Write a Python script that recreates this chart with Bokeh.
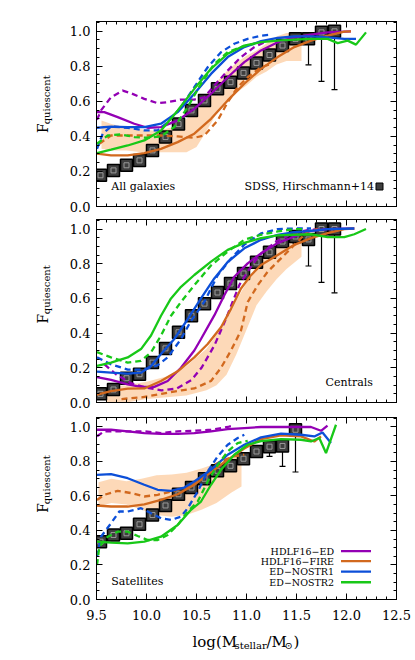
import numpy as np
from bokeh.plotting import figure
from bokeh.layouts import column, row
from bokeh.models import Range1d, FixedTicker, LinearAxis, Label
from bokeh.embed import file_html
from bokeh.resources import INLINE

# ---------------- data ----------------
sdss_x = [9.54, 9.67, 9.80, 9.93, 10.06, 10.19, 10.32, 10.45, 10.58, 10.71,
          10.84, 10.97, 11.10, 11.23, 11.36, 11.49, 11.62, 11.75, 11.88]

# All galaxies: SDSS (Hirschmann+14)
all_sdss_y = [0.178, 0.206, 0.235, 0.263, 0.320, 0.396, 0.470, 0.548, 0.605, 0.671,
              0.709, 0.762, 0.819, 0.864, 0.918, 0.956, 0.956, 0.993, 0.999]
all_sdss_elo = [0.012, 0.012, 0.012, 0.012, 0.012, 0.012, 0.012, 0.012, 0.012, 0.012,
                0.012, 0.012, 0.012, 0.012, 0.015, 0.025, 0.148, 0.279, 0.332]
all_sdss_ehi = [0.012, 0.012, 0.012, 0.012, 0.012, 0.012, 0.012, 0.012, 0.012, 0.012,
                0.012, 0.012, 0.012, 0.012, 0.012, 0.012, 0.012, 0.005, 0.001]

all_band_x = [9.55, 9.65, 9.8, 9.95, 10.1, 10.25, 10.4, 10.5, 10.6, 10.7, 10.8, 10.9, 11.0, 11.1, 11.2, 11.3, 11.4, 11.55]
all_band_hi = [0.49, 0.47, 0.45, 0.44, 0.43, 0.45, 0.50, 0.56, 0.64, 0.71, 0.77, 0.82, 0.86, 0.89, 0.93, 0.97, 0.99, 0.99]
all_band_lo = [0.33, 0.32, 0.32, 0.31, 0.31, 0.31, 0.31, 0.34, 0.43, 0.53, 0.59, 0.65, 0.69, 0.74, 0.77, 0.81, 0.83, 0.83]

all_ed_sol_x = [9.505, 9.578, 9.712, 9.878, 10.012, 10.145, 10.312, 10.478, 10.645, 10.812, 10.978, 11.145, 11.312, 11.478, 11.645, 11.812, 12.045]
all_ed_sol_y = [0.538, 0.538, 0.510, 0.472, 0.449, 0.453, 0.491, 0.557, 0.643, 0.737, 0.823, 0.890, 0.937, 0.965, 0.980, 0.993, 0.999]
all_ed_dsh_x = [9.505, 9.545, 9.645, 9.762, 9.845, 9.978, 10.112, 10.212, 10.345, 10.478, 10.578, 10.678, 10.812, 10.945, 11.078, 11.212]
all_ed_dsh_y = [0.494, 0.548, 0.623, 0.661, 0.646, 0.614, 0.589, 0.595, 0.610, 0.610, 0.623, 0.690, 0.775, 0.852, 0.909, 0.946]
all_fire_sol_x = [9.505, 9.645, 9.812, 9.978, 10.145, 10.312, 10.478, 10.645, 10.812, 10.978, 11.145, 11.312, 11.478, 11.645, 11.812, 11.978, 12.045]
all_fire_sol_y = [0.301, 0.291, 0.291, 0.305, 0.329, 0.367, 0.415, 0.500, 0.605, 0.700, 0.785, 0.852, 0.909, 0.946, 0.974, 0.997, 0.999]
all_fire_dsh_x = [9.528, 9.645, 9.812, 9.978, 10.145, 10.312, 10.478, 10.578, 10.712, 10.812, 10.912, 11.012, 11.145, 11.245]
all_fire_dsh_y = [0.358, 0.405, 0.405, 0.405, 0.405, 0.400, 0.392, 0.405, 0.491, 0.595, 0.681, 0.737, 0.794, 0.813]
all_n1_sol_x = [9.505, 9.645, 9.812, 9.978, 10.145, 10.312, 10.478, 10.645, 10.812, 10.978, 11.145, 11.312, 11.478, 11.645, 11.812, 11.978, 12.095]
all_n1_sol_y = [0.449, 0.456, 0.453, 0.453, 0.472, 0.538, 0.643, 0.756, 0.852, 0.909, 0.943, 0.961, 0.970, 0.970, 0.965, 0.956, 0.956]
all_n1_dsh_x = [9.505, 9.562, 9.645, 9.812, 9.978, 10.112, 10.212, 10.345, 10.478, 10.612, 10.745, 10.878, 11.012, 11.145, 11.245]
all_n1_dsh_y = [0.329, 0.415, 0.456, 0.449, 0.434, 0.434, 0.481, 0.567, 0.681, 0.794, 0.880, 0.928, 0.956, 0.974, 0.980]
all_n2_sol_x = [9.505, 9.645, 9.812, 9.978, 10.145, 10.312, 10.478, 10.645, 10.812, 10.978, 11.145, 11.312, 11.478, 11.645, 11.812, 11.912, 12.012, 12.095, 12.195]
all_n2_sol_y = [0.305, 0.324, 0.348, 0.377, 0.434, 0.548, 0.671, 0.785, 0.871, 0.918, 0.937, 0.946, 0.952, 0.956, 0.956, 0.932, 0.946, 0.923, 0.993]
all_n2_dsh_x = [9.505, 9.612, 9.745, 9.878, 10.012, 10.145, 10.278, 10.412, 10.545, 10.678, 10.812, 10.945, 11.078]
all_n2_dsh_y = [0.358, 0.405, 0.411, 0.396, 0.392, 0.400, 0.453, 0.567, 0.700, 0.813, 0.880, 0.909, 0.928]

# Centrals
cen_sdss_y = [0.050, 0.075, 0.140, 0.163, 0.230, 0.312, 0.405, 0.500, 0.570, 0.634,
              0.686, 0.744, 0.808, 0.866, 0.928, 0.957, 0.940, 1.000, 1.000]
cen_sdss_elo = [0.012, 0.012, 0.012, 0.012, 0.012, 0.012, 0.012, 0.012, 0.012, 0.012,
                0.012, 0.012, 0.012, 0.012, 0.015, 0.039, 0.153, 0.308, 0.368]
cen_sdss_ehi = [0.012, 0.012, 0.012, 0.012, 0.012, 0.012, 0.012, 0.012, 0.012, 0.012,
                0.012, 0.012, 0.012, 0.012, 0.012, 0.012, 0.012, 0.001, 0.001]

cen_band_x = [9.6, 9.8, 10.0, 10.2, 10.4, 10.6, 10.7, 10.8, 10.9, 11.0, 11.1, 11.2, 11.3, 11.4, 11.55]
cen_band_hi = [0.09, 0.10, 0.12, 0.15, 0.21, 0.31, 0.39, 0.48, 0.59, 0.69, 0.79, 0.86, 0.92, 0.96, 0.99]
cen_band_lo = [0.00, 0.00, 0.02, 0.03, 0.04, 0.07, 0.10, 0.16, 0.28, 0.42, 0.56, 0.64, 0.71, 0.77, 0.84]

cen_ed_sol_x = [9.505, 9.645, 9.812, 9.945, 10.078, 10.212, 10.345, 10.478, 10.545, 10.678, 10.778, 10.878, 11.012, 11.145, 11.312, 11.478, 11.645, 11.812, 12.078]
cen_ed_sol_y = [0.147, 0.130, 0.105, 0.090, 0.090, 0.124, 0.200, 0.300, 0.366, 0.502, 0.618, 0.725, 0.802, 0.860, 0.919, 0.957, 0.990, 1.000, 1.003]
cen_ed_dsh_x = [9.58, 9.70, 9.85, 10.00, 10.15, 10.30, 10.45, 10.55, 10.68, 10.80, 10.93, 11.03, 11.13, 11.30, 11.47, 11.63, 11.80]
cen_ed_dsh_y = [0.22, 0.16, 0.11, 0.085, 0.07, 0.08, 0.13, 0.20, 0.33, 0.49, 0.68, 0.77, 0.85, 0.93, 0.977, 0.996, 1.0]
cen_fire_sol_x = [9.505, 9.645, 9.812, 9.978, 10.145, 10.312, 10.478, 10.612, 10.745, 10.845, 10.945, 11.045, 11.145, 11.312, 11.478, 11.645, 11.812, 11.978, 12.078]
cen_fire_sol_y = [0.046, 0.066, 0.080, 0.081, 0.124, 0.180, 0.260, 0.337, 0.434, 0.540, 0.657, 0.734, 0.793, 0.850, 0.909, 0.948, 0.977, 1.000, 1.003]
cen_fire_dsh_x = [9.75, 9.95, 10.15, 10.35, 10.478, 10.645, 10.745, 10.845, 10.945, 11.012, 11.112, 11.212, 11.312, 11.412, 11.512, 11.612, 11.712]
cen_fire_dsh_y = [0.02, 0.03, 0.05, 0.07, 0.081, 0.124, 0.20, 0.30, 0.415, 0.579, 0.676, 0.754, 0.812, 0.870, 0.928, 0.986, 1.0]
cen_n1_sol_x = [9.505, 9.645, 9.812, 9.945, 10.045, 10.145, 10.278, 10.412, 10.545, 10.678, 10.812, 10.978, 11.145, 11.312, 11.478, 11.645, 11.812, 12.078]
cen_n1_sol_y = [0.178, 0.172, 0.166, 0.172, 0.210, 0.279, 0.366, 0.480, 0.600, 0.715, 0.810, 0.889, 0.938, 0.967, 0.982, 0.990, 1.000, 1.003]
cen_n1_dsh_x = [9.505, 9.645, 9.812, 9.978, 10.112, 10.212, 10.345, 10.445, 10.578, 10.712, 10.845, 10.978, 11.145, 11.312, 11.478, 11.645]
cen_n1_dsh_y = [0.26, 0.22, 0.19, 0.19, 0.215, 0.26, 0.366, 0.47, 0.58, 0.734, 0.83, 0.91, 0.975, 1.0, 1.003, 1.003]
cen_n2_sol_x = [9.505, 9.645, 9.812, 9.945, 10.045, 10.145, 10.245, 10.345, 10.478, 10.645, 10.812, 10.978, 11.145, 11.312, 11.478, 11.645, 11.812, 11.978, 12.078, 12.195]
cen_n2_sol_y = [0.211, 0.230, 0.260, 0.308, 0.386, 0.500, 0.600, 0.667, 0.735, 0.812, 0.880, 0.920, 0.948, 0.963, 0.967, 0.970, 0.953, 0.953, 0.970, 1.000]
cen_n2_dsh_x = [9.505, 9.645, 9.812, 9.945, 10.045, 10.145, 10.245, 10.345, 10.478, 10.645, 10.812, 10.978, 11.145, 11.312, 11.478, 11.578]
cen_n2_dsh_y = [0.29, 0.26, 0.23, 0.24, 0.289, 0.386, 0.50, 0.58, 0.676, 0.79, 0.87, 0.938, 0.967, 0.986, 1.0, 1.0]

# Satellites
sat_sdss_x = sdss_x[:16]
sat_sdss_y = [0.335, 0.374, 0.384, 0.436, 0.490, 0.545, 0.610, 0.649, 0.700, 0.746,
              0.775, 0.816, 0.858, 0.886, 0.890, 0.984]
sat_sdss_elo = [0.012, 0.012, 0.012, 0.012, 0.012, 0.012, 0.012, 0.012, 0.012, 0.012,
                0.012, 0.012, 0.020, 0.056, 0.118, 0.245]
sat_sdss_ehi = [0.012, 0.012, 0.012, 0.012, 0.012, 0.012, 0.012, 0.012, 0.012, 0.012,
                0.012, 0.012, 0.012, 0.012, 0.012, 0.012]

sat_band_x = [9.52, 9.65, 9.8, 9.95, 10.1, 10.25, 10.4, 10.55, 10.7, 10.85, 10.95]
sat_band_hi = [0.68, 0.70, 0.685, 0.70, 0.72, 0.725, 0.735, 0.76, 0.79, 0.82, 0.83]
sat_band_lo = [0.54, 0.56, 0.55, 0.52, 0.49, 0.48, 0.49, 0.52, 0.56, 0.62, 0.655]

sat_ed_sol_x = [9.505, 9.645, 9.812, 9.978, 10.145, 10.312, 10.478, 10.645, 10.812, 10.978, 11.145, 11.312, 11.478, 11.645, 11.745, 11.81]
sat_ed_sol_y = [0.984, 0.984, 0.975, 0.965, 0.960, 0.960, 0.965, 0.975, 0.988, 0.994, 1.000, 1.000, 1.000, 1.000, 0.978, 1.008]
sat_ed_dsh_x = [9.505, 9.578, 9.812, 9.978, 10.145, 10.312, 10.478, 10.645, 10.812, 10.878]
sat_ed_dsh_y = [0.946, 0.975, 0.975, 0.975, 0.965, 0.975, 0.978, 0.984, 1.000, 1.010]
sat_fire_sol_x = [9.505, 9.645, 9.812, 9.978, 10.145, 10.312, 10.478, 10.645, 10.812, 10.978, 11.145, 11.345, 11.545, 11.678, 11.745]
sat_fire_sol_y = [0.545, 0.539, 0.539, 0.552, 0.577, 0.610, 0.665, 0.738, 0.810, 0.875, 0.930, 0.952, 0.946, 0.916, 0.946]
sat_fire_dsh_x = [9.505, 9.578, 9.712, 9.845, 9.978, 10.112, 10.245, 10.378, 10.478, 10.578, 10.678, 10.778, 10.878, 10.978]
sat_fire_dsh_y = [0.577, 0.607, 0.630, 0.617, 0.597, 0.607, 0.626, 0.645, 0.675, 0.723, 0.780, 0.810, 0.830, 0.840]
sat_n1_sol_x = [9.505, 9.645, 9.812, 9.978, 10.112, 10.245, 10.378, 10.478, 10.645, 10.812, 10.978, 11.145, 11.345, 11.545, 11.678, 11.76, 11.845]
sat_n1_sol_y = [0.723, 0.727, 0.703, 0.665, 0.636, 0.630, 0.649, 0.684, 0.752, 0.839, 0.897, 0.940, 0.962, 0.955, 0.945, 0.968, 0.907]
sat_n1_dsh_x = [9.505, 9.545, 9.645, 9.728, 9.812, 9.945, 10.045, 10.145, 10.245, 10.345, 10.412, 10.512, 10.612, 10.712, 10.812, 10.912, 10.978]
sat_n1_dsh_y = [0.248, 0.364, 0.442, 0.510, 0.510, 0.529, 0.500, 0.471, 0.461, 0.480, 0.529, 0.626, 0.742, 0.830, 0.897, 0.936, 0.955]
sat_n2_sol_x = [9.505, 9.645, 9.812, 9.978, 10.145, 10.312, 10.445, 10.545, 10.645, 10.745, 10.878, 11.012, 11.145, 11.345, 11.545, 11.645, 11.728, 11.795, 11.895]
sat_n2_sol_y = [0.335, 0.330, 0.325, 0.335, 0.364, 0.432, 0.520, 0.568, 0.665, 0.752, 0.839, 0.897, 0.918, 0.930, 0.926, 0.916, 0.936, 0.849, 1.013]
sat_n2_dsh_x = [9.505, 9.528, 9.612, 9.712, 9.812, 9.912, 10.012, 10.112, 10.212, 10.312, 10.412, 10.512, 10.612, 10.712, 10.812, 10.912, 11.012]
sat_n2_dsh_y = [0.200, 0.306, 0.364, 0.393, 0.393, 0.368, 0.345, 0.345, 0.374, 0.432, 0.510, 0.568, 0.684, 0.780, 0.858, 0.907, 0.920]

model_names = ["HDLF16\u2212ED", "HDLF16\u2212FIRE", "ED\u2212NOSTR1", "ED\u2212NOSTR2"]
x_tick_labels = ["9.5", "10.0", "10.5", "11.0", "11.5", "12.0", "12.5"]
y_tick_labels = ["0.0", "0.2", "0.4", "0.6", "0.8", "1.0"]

# ---------------- styling ----------------
PURPLE = "#9300b4"
ORANGE = "#d2691e"
BLUE = "#0c4fd8"
GREEN = "#18c818"
BAND = "#fdd5b0"
COLORS = [PURPLE, ORANGE, BLUE, GREEN]
SERIF = "DejaVu Serif"
LW = 2.3
DASH = "6 4"

X_MAJOR = [9.5, 10.0, 10.5, 11.0, 11.5, 12.0, 12.5]
X_MINOR = [round(9.5 + 0.1 * i, 2) for i in range(31)]
Y_MAJOR = [0.0, 0.2, 0.4, 0.6, 0.8, 1.0]
Y_MINOR = [round(0.05 * i, 2) for i in range(22)]
YMAX = 1.055

LAB_W = 64      # width of the strip holding the rotated y titles
PANEL_W = 348   # width of each panel figure


def labelled_axis(ticks, minor, labels, standoff):
    ax = LinearAxis(ticker=FixedTicker(ticks=ticks, minor_ticks=minor),
                    major_label_overrides={v: s for v, s in zip(ticks, labels)})
    ax.axis_line_color = "black"
    ax.major_tick_line_color = "black"
    ax.minor_tick_line_color = "black"
    ax.major_tick_in = 6
    ax.major_tick_out = 0
    ax.minor_tick_in = 3
    ax.minor_tick_out = 0
    ax.major_label_text_font = SERIF
    ax.major_label_text_font_size = "13px"
    ax.major_label_text_color = "black"
    ax.major_label_standoff = standoff
    return ax


def tick_only_axes(p, side, major, minor):
    # two label-free axes on one side: long ticks at the majors, short at the minors
    for pos, length in ((major, 6), (minor, 3)):
        ax = LinearAxis(ticker=FixedTicker(ticks=[], minor_ticks=pos))
        ax.axis_line_color = "black"
        ax.minor_tick_line_color = "black"
        ax.major_tick_in = 0
        ax.major_tick_out = 0
        ax.minor_tick_in = length
        ax.minor_tick_out = 0
        ax.major_label_standoff = 0
        p.add_layout(ax, side)


def make_panel(height, top, bottom, show_x):
    p = figure(width=PANEL_W, height=height, x_range=Range1d(9.5, 12.5),
               y_range=Range1d(0.0, YMAX), output_backend="svg",
               toolbar_location=None, x_axis_location=None, y_axis_location=None,
               min_border_left=32, min_border_right=16,
               min_border_top=top, min_border_bottom=bottom)
    p.grid.visible = False
    p.outline_line_color = "black"
    p.background_fill_color = "white"
    p.border_fill_color = "white"
    p.add_layout(labelled_axis(Y_MAJOR, Y_MINOR, y_tick_labels, 6), "left")
    if show_x:
        p.add_layout(labelled_axis(X_MAJOR, X_MINOR, x_tick_labels, 10), "below")
    else:
        tick_only_axes(p, "below", X_MAJOR, X_MINOR)
    tick_only_axes(p, "above", X_MAJOR, X_MINOR)
    tick_only_axes(p, "right", Y_MAJOR, Y_MINOR)
    return p


def ylabel_strip(height, center):
    f = figure(width=LAB_W, height=height, x_range=Range1d(0, LAB_W),
               y_range=Range1d(height, 0), output_backend="svg",
               toolbar_location=None, x_axis_location=None, y_axis_location=None,
               min_border=0, outline_line_color=None)
    f.grid.visible = False
    f.add_layout(Label(x=42, y=center + 16, text="F", angle=np.pi / 2, text_align="left",
                       text_baseline="middle", text_font=SERIF, text_font_size="14px",
                       text_color="black"))
    f.add_layout(Label(x=46, y=center + 6, text="quiescent", angle=np.pi / 2,
                       text_align="left", text_baseline="middle", text_font=SERIF,
                       text_font_size="10px", text_color="black"))
    return f


def draw(p, band, sdss, curves):
    bx, blo, bhi = band
    p.varea(x=bx, y1=blo, y2=bhi, fill_color=BAND, fill_alpha=0.9)
    sx, sy, elo, ehi = sdss
    sx = np.array(sx); sy = np.array(sy)
    lo = sy - np.array(elo); hi = sy + np.array(ehi)
    p.segment(x0=sx, y0=lo, x1=sx, y1=hi, line_color="black", line_width=1.2)
    p.segment(x0=sx - 0.03, y0=lo, x1=sx + 0.03, y1=lo, line_color="black", line_width=1.2)
    p.scatter(sx, sy, marker="square", size=12, fill_color="#3e3e3e",
              line_color="black", line_width=1.5)
    p.scatter(sx, sy, marker="square", size=5, fill_alpha=0,
              line_color="#9a9a9a", line_width=1)
    for color, (xs, ys, xd, yd) in zip(COLORS, curves):
        p.line(xd, yd, line_color=color, line_width=LW, line_dash=DASH)
        p.line(xs, ys, line_color=color, line_width=LW)


def text(p, x, y, s, align="left", size="11px"):
    p.add_layout(Label(x=x, y=y, text=s, text_align=align, text_baseline="middle",
                       text_font=SERIF, text_font_size=size, text_color="black"))


# ---------------- panels ----------------
# frame tops at 21 / 219 / 417 px, frame heights 185 / 183 / 182 px
H1, T1, B1 = 215, 21, 9
H2, T2, B2 = 196, 4, 9
H3, T3, B3 = 216, 6, 28

p1 = make_panel(H1, T1, B1, False)
draw(p1, (all_band_x, all_band_lo, all_band_hi),
     (sdss_x, all_sdss_y, all_sdss_elo, all_sdss_ehi),
     [(all_ed_sol_x, all_ed_sol_y, all_ed_dsh_x, all_ed_dsh_y),
      (all_fire_sol_x, all_fire_sol_y, all_fire_dsh_x, all_fire_dsh_y),
      (all_n1_sol_x, all_n1_sol_y, all_n1_dsh_x, all_n1_dsh_y),
      (all_n2_sol_x, all_n2_sol_y, all_n2_dsh_x, all_n2_dsh_y)])
text(p1, 9.647, 0.116, "All galaxies")
text(p1, 12.275, 0.116, "SDSS, Hirschmann+14", align="right")
p1.scatter([12.33], [0.114], marker="square", size=7, fill_color="#3e3e3e",
           line_color="black", line_width=1)

p2 = make_panel(H2, T2, B2, False)
draw(p2, (cen_band_x, cen_band_lo, cen_band_hi),
     (sdss_x, cen_sdss_y, cen_sdss_elo, cen_sdss_ehi),
     [(cen_ed_sol_x, cen_ed_sol_y, cen_ed_dsh_x, cen_ed_dsh_y),
      (cen_fire_sol_x, cen_fire_sol_y, cen_fire_dsh_x, cen_fire_dsh_y),
      (cen_n1_sol_x, cen_n1_sol_y, cen_n1_dsh_x, cen_n1_dsh_y),
      (cen_n2_sol_x, cen_n2_sol_y, cen_n2_dsh_x, cen_n2_dsh_y)])
text(p2, 12.265, 0.117, "Centrals", align="right")

p3 = make_panel(H3, T3, B3, True)
draw(p3, (sat_band_x, sat_band_lo, sat_band_hi),
     (sat_sdss_x, sat_sdss_y, sat_sdss_elo, sat_sdss_ehi),
     [(sat_ed_sol_x, sat_ed_sol_y, sat_ed_dsh_x, sat_ed_dsh_y),
      (sat_fire_sol_x, sat_fire_sol_y, sat_fire_dsh_x, sat_fire_dsh_y),
      (sat_n1_sol_x, sat_n1_sol_y, sat_n1_dsh_x, sat_n1_dsh_y),
      (sat_n2_sol_x, sat_n2_sol_y, sat_n2_dsh_x, sat_n2_dsh_y)])
text(p3, 9.647, 0.106, "Satellites")

# legend (text left of line sample)
leg_y = [0.280, 0.222, 0.162, 0.100]
for name, color, ly in zip(model_names, COLORS, leg_y):
    text(p3, 11.875, ly, name, align="right", size="9.5px")
    p3.line([11.945, 12.245], [ly, ly], line_color=color, line_width=LW)

# y titles, one strip per panel (centre of each frame, px from strip top)
s1 = ylabel_strip(H1, T1 + (H1 - T1 - B1) / 2)
s2 = ylabel_strip(H2, T2 + (H2 - T2 - B2) / 2)
s3 = ylabel_strip(H3, T3 + (H3 - T3 - B3) / 2)

# x title strip: log(M_stellar / M_sun)
XT_W, XT_H = LAB_W + PANEL_W, 31
xt = figure(width=XT_W, height=XT_H, x_range=Range1d(0, XT_W), y_range=Range1d(XT_H, 0),
            output_backend="svg", toolbar_location=None, x_axis_location=None,
            y_axis_location=None, min_border=0, outline_line_color=None)
xt.grid.visible = False
main_y, sub_y = 14, 18
text(xt, 192, main_y, "log(M", size="15px")
text(xt, 234, sub_y, "stellar", size="10px")
text(xt, 266, main_y, "/M", size="15px")
text(xt, 284, sub_y, "\u2299", size="10px")
text(xt, 293, main_y, ")", size="15px")

layout = column(row(s1, p1), row(s2, p2), row(s3, p3), xt)
open("out.html", "w").write(file_html(layout, INLINE))
